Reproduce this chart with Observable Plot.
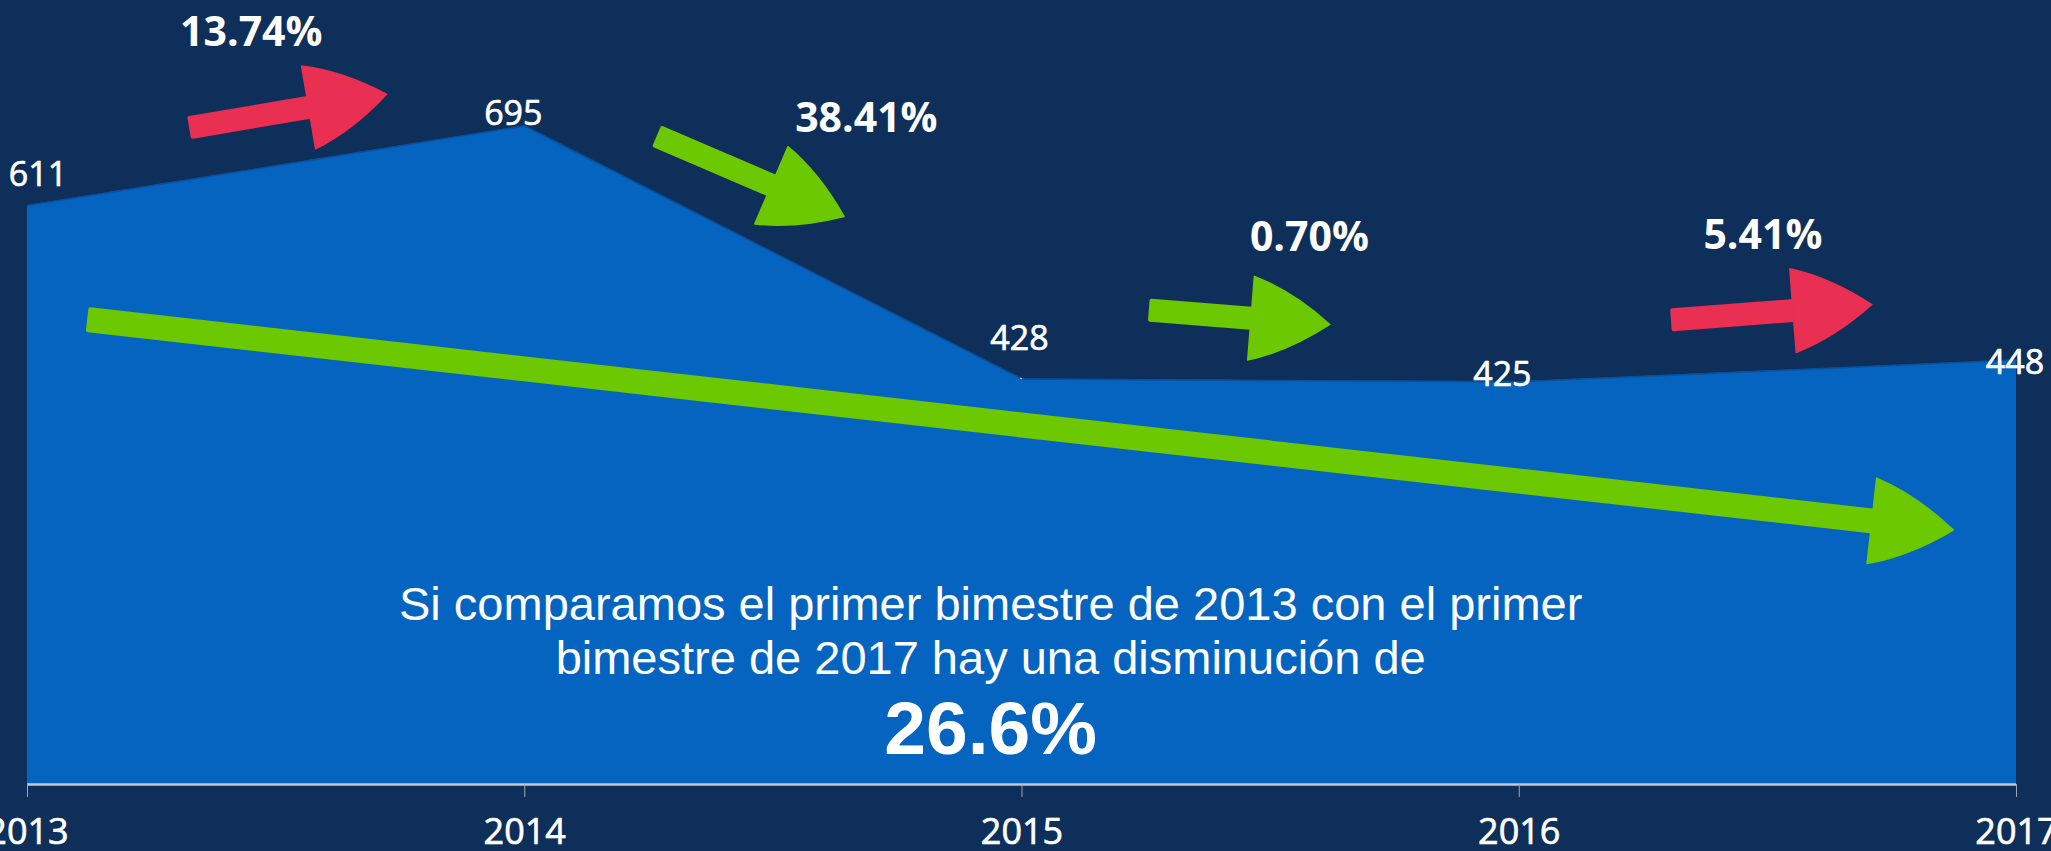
<!DOCTYPE html>
<html>
<head>
<meta charset="utf-8">
<script src="https://cdn.jsdelivr.net/npm/d3@7"></script>
<script src="https://cdn.jsdelivr.net/npm/@observablehq/plot@0.6"></script>
<style>
  html, body { margin: 0; padding: 0; background: #0e2f5a; overflow: hidden; }
  #chart { width: 2051px; height: 851px; }
  g[aria-label="x-axis tick label"] text { stroke: white; stroke-width: 0.7px; }
</style>
</head>
<body>
<div id="chart"></div>
<script>
// ---------- data ----------
const years = [2013, 2014, 2015, 2016, 2017];
const values = [611, 695, 428, 425, 448];
const tickLabels = ["2013", "2014", "2015", "2016", "2017"];
const changeLabels = ["13.74%", "38.41%", "0.70%", "5.41%"];
const changeDirections = ["up", "down", "down", "up"];
const summaryLines = [
  "Si comparamos el primer bimestre de 2013 con el primer",
  "bimestre de 2017 hay una disminución de"
];
const summaryValue = "26.6%";

// ---------- annotation placement (data coordinates: year, value) ----------
const valueLabelX = [2013.021, 2013.977, 2014.995, 2015.966, 2016.997];
const valueLabelY = [643, 708, 470, 432, 445];
const changeLabelX = [2013.45, 2014.687, 2015.578, 2016.49];
const changeLabelY = [793, 703, 577, 579];
const changeArrowStart = [[2013.33, 693], [2014.27, 683], [2015.26, 500], [2016.31, 490]];
const changeArrowEnd = [[2013.723, 728], [2014.643, 599], [2015.62, 485], [2016.71, 506]];
const trendArrowStart = [2013.125, 490];
const trendArrowEnd = [2016.874, 268];
const summaryX = 2014.937;
const summaryLineY = [190, 133];
const summaryValueY = 58;

// ---------- styles ----------
const BG = "#0e2f5a";
const AREA = "#0464c0";
const GREEN = "#6cc800";
const RED = "#e92f52";

const data = years.map((year, i) => ({year, value: values[i], lx: valueLabelX[i], ly: valueLabelY[i]}));
const changes = changeLabels.map((label, i) => ({
  label, dir: changeDirections[i],
  x: changeLabelX[i], y: changeLabelY[i],
  start: changeArrowStart[i], end: changeArrowEnd[i]
}));
const summary = summaryLines.map((t, i) => ({t, y: summaryLineY[i]}));

function drawArrow(g, p0, p1, color, shaftW, headL, headW) {
  const dx = p1[0] - p0[0], dy = p1[1] - p0[1], len = Math.hypot(dx, dy);
  const ux = dx / len, uy = dy / len, nx = -uy, ny = ux;
  const bx = p1[0] - ux * headL, by = p1[1] - uy * headL;
  const hs = shaftW / 2 - 2;
  const ex = bx + ux * 6, ey = by + uy * 6;
  const shaft = `M${p0[0] + nx * hs},${p0[1] + ny * hs}L${ex + nx * hs},${ey + ny * hs}L${ex - nx * hs},${ey - ny * hs}L${p0[0] - nx * hs},${p0[1] - ny * hs}Z`;
  g.append("path").attr("d", shaft).attr("fill", color)
    .attr("stroke", color).attr("stroke-width", 4).attr("stroke-linejoin", "round");
  const hw = headW / 2;
  const k = 0.72;
  const a = [bx + nx * hw, by + ny * hw];
  const b = [bx - nx * hw, by - ny * hw];
  const c1 = [bx + ux * headL * 0.5 + nx * hw * k, by + uy * headL * 0.5 + ny * hw * k];
  const c2 = [bx + ux * headL * 0.5 - nx * hw * k, by + uy * headL * 0.5 - ny * hw * k];
  const head = `M${a[0]},${a[1]}Q${c1[0]},${c1[1]} ${p1[0]},${p1[1]}Q${c2[0]},${c2[1]} ${b[0]},${b[1]}Z`;
  g.append("path").attr("d", head).attr("fill", color)
    .attr("stroke", color).attr("stroke-width", 1.5).attr("stroke-linejoin", "round");
}

const arrowsMark = (index, scales) => {
  const g = d3.create("svg:g");
  const px = (p) => [scales.x(p[0]), scales.y(p[1])];
  drawArrow(g, px(trendArrowStart), px(trendArrowEnd), GREEN, 25, 82, 86);
  for (const c of changes) {
    drawArrow(g, px(c.start), px(c.end), c.dir === "up" ? RED : GREEN, 23, 79, 84);
  }
  return g.node();
};

const plot = Plot.plot({
  width: 2051,
  height: 851,
  marginTop: 26,
  marginBottom: 67,
  marginLeft: 27,
  marginRight: 35,
  style: {background: BG, color: "white", overflow: "visible", fontFamily: "'Open Sans', sans-serif"},
  x: {domain: [2013, 2017], axis: null},
  y: {domain: [0, 800], axis: null},
  marks: [
    Plot.areaY(data, {x: "year", y: "value", fill: AREA}),
    Plot.lineY(data, {x: "year", y: "value", stroke: "#0a4f9a", strokeWidth: 1.5}),
    Plot.ruleY([0], {stroke: "#c3cad6", strokeWidth: 2.5}),
    Plot.axisX({
      ticks: years,
      tickFormat: (d) => tickLabels[years.indexOf(d)],
      tickSize: 13,
      tickPadding: 21,
      stroke: "#9aa6b8",
      fill: "white",
      fontSize: 36,
      fontFamily: "'Open Sans', sans-serif"
    }),
    Plot.link([data[2]], {x1: (d) => d.year - 0.004, y1: 445 - 16, x2: "year", y2: "value", stroke: "#b8c2d0", strokeWidth: 1.2}),
    arrowsMark,
    Plot.text(data, {x: "lx", y: "ly", text: (d) => String(d.value), fill: "white", stroke: "white", strokeWidth: 0.7, fontSize: 34, fontFamily: "'Open Sans', sans-serif"}),
    Plot.text(changes, {x: "x", y: "y", text: "label", fill: "white", fontSize: 41, fontWeight: "bold", fontFamily: "'Open Sans', sans-serif"}),
    Plot.text(summary, {x: () => summaryX, y: "y", text: "t", fill: "white", fontSize: 47, fontFamily: "'Liberation Sans', Arial, sans-serif"}),
    Plot.text([summaryValue], {x: () => summaryX, y: () => summaryValueY, text: (d) => d, fill: "white", fontSize: 75, fontWeight: "bold", fontFamily: "'Liberation Sans', Arial, sans-serif"})
  ]
});
document.getElementById("chart").appendChild(plot);
</script>
</body>
</html>
